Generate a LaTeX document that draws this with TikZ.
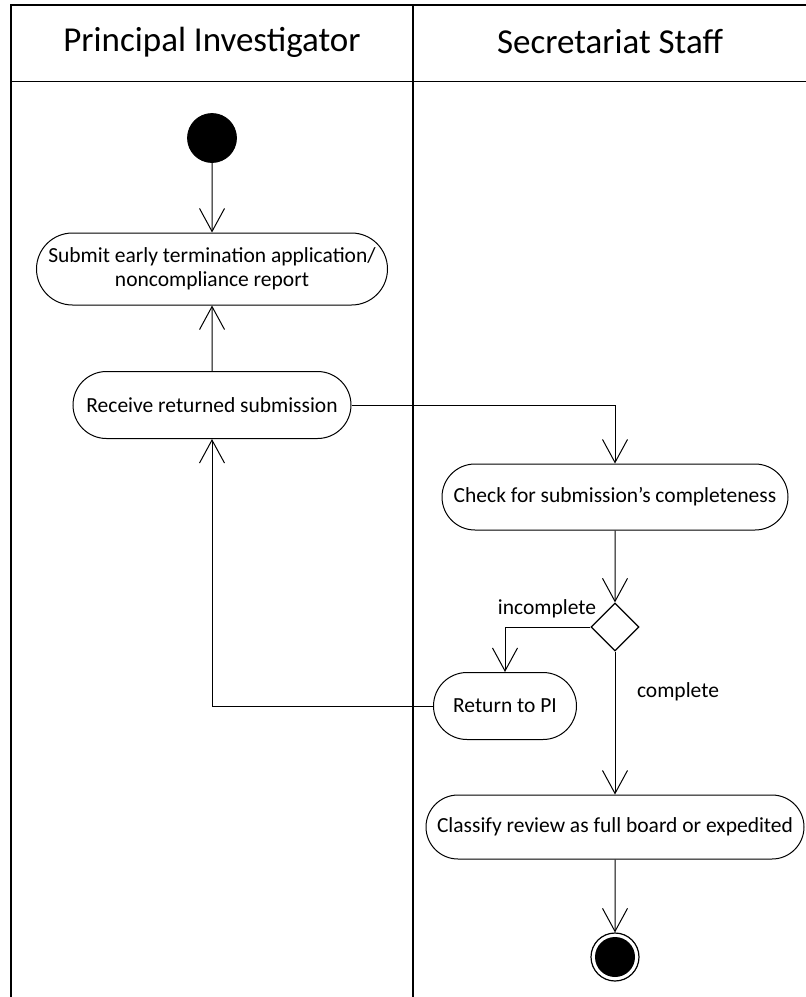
\documentclass[tikz,border=0pt]{standalone}
\usepackage{fontspec}
\setmainfont{Carlito}
\usetikzlibrary{arrows.meta}
\usetikzlibrary{shapes.geometric}
\usetikzlibrary{shapes.misc}
\tikzset{
	lanestyle/.style={line width=1pt},
	headerstyle/.style={font=\fontsize{17.5}{21}\selectfont},
	actionstyle/.style={rounded rectangle,draw=black,fill=white,line width=0.5pt,inner sep=0pt,align=center,font=\fontsize{10.75}{12}\selectfont},
	startstyle/.style={circle,draw=black,fill=black,inner sep=0pt,minimum size=24.5pt},
	endstyle/.style={circle,draw=black,fill=white,line width=0.6pt,inner sep=0pt,minimum size=24pt,
		path picture={\fill[black] (path picture bounding box.center) circle (10pt);}},
	decisionstyle/.style={diamond,draw=black,fill=white,line width=0.6pt,inner sep=0pt,minimum width=24pt,minimum height=24pt},
	guardstyle/.style={font=\fontsize{10.75}{12}\selectfont},
	flowstyle/.style={line width=0.5pt,-{Straight Barb[length=11.5pt,width=12.5pt]}}
}
\begin{document}
\begin{tikzpicture}[x=0.5pt,y=-0.5pt]
		\useasboundingbox (0,0) rectangle (806,997);
		% swimlanes
		\draw[lanestyle] (11,997) -- (11,4.5) -- (806,4.5);
		\draw[lanestyle] (413,4.5) -- (413,997);
		\draw[line width=0.5pt] (11,81) -- (806,81);
		\node[headerstyle] (pi) at (212,42) {Principal Investigator};
		\node[headerstyle] (staff) at (610,42) {Secretariat Staff};
		% activities
		\node[startstyle] (start) at (212,138) {};
		\node[actionstyle,minimum width=175.5pt,minimum height=36pt] (submit) at (212,269) {Submit early termination application/\\noncompliance report};
		\node[actionstyle,minimum width=139pt,minimum height=33.5pt] (receive) at (212,405) {Receive returned submission};
		\node[actionstyle,minimum width=173pt,minimum height=33pt] (check) at (615,497) {Check for submission’s completeness};
		\node[decisionstyle] (decision) at (615,627) {};
		\node[actionstyle,minimum width=71.5pt,minimum height=33.5pt] (return) at (505,706) {Return to PI};
		\node[actionstyle,minimum width=189pt,minimum height=32pt] (classify) at (615,827) {Classify review as full board or expedited};
		\node[endstyle] (end) at (615,957) {};
		\node[guardstyle] (incomplete) at (547,609) {incomplete};
		\node[guardstyle] (complete) at (678,692) {complete};
		% flows
		\draw[flowstyle] (start) -- (submit);
		\draw[flowstyle] (receive) -- (submit);
		\draw[flowstyle] (receive.east) -| (check.north);
		\draw[flowstyle] (check) -- (decision);
		\draw[flowstyle] (decision.west) -| (return.north);
		\draw[flowstyle] (decision) -- (classify);
		\draw[flowstyle] (return.west) -| (receive.south);
		\draw[flowstyle] (classify) -- (end);
\end{tikzpicture}
\end{document}
